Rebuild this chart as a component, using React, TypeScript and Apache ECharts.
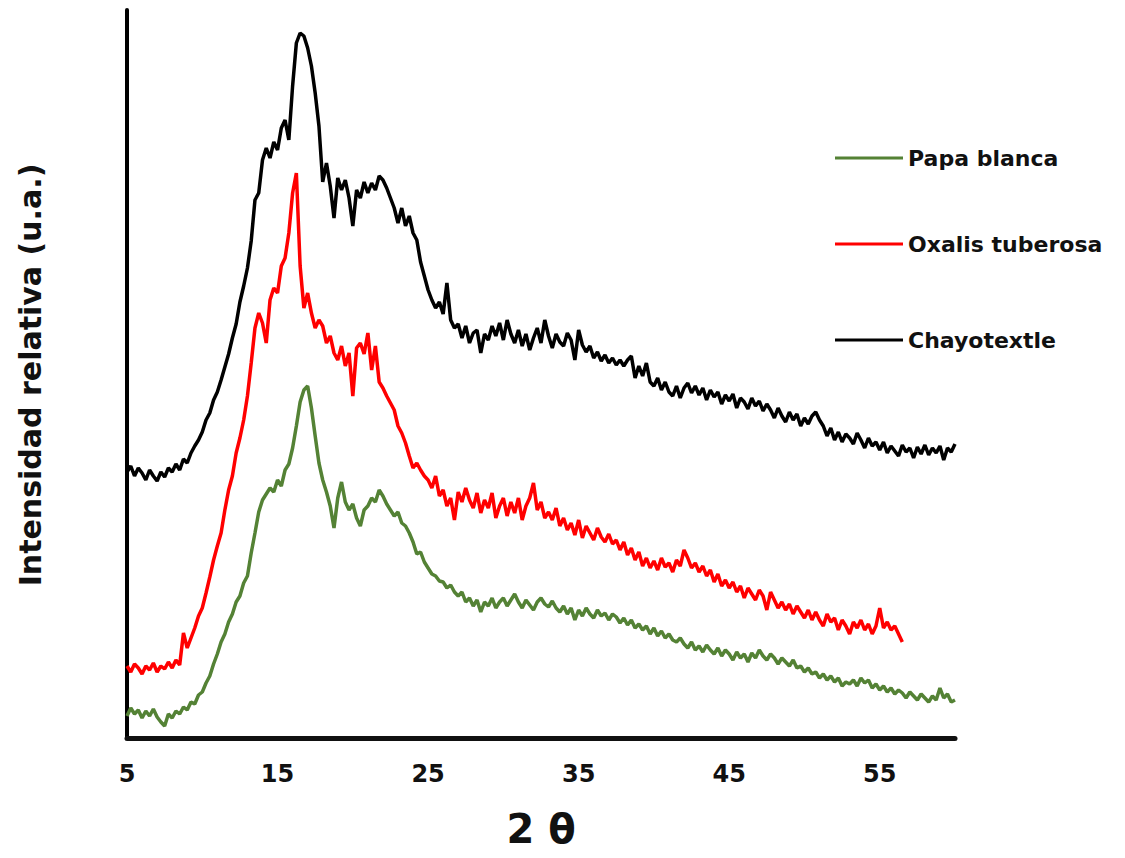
import React, { useEffect, useRef } from "react";
import * as echarts from "echarts";

// 2θ sampling of the diffractograms (degrees)
const THETA_START = 5;
const THETA_STEP = 0.25;

// Relative intensity (a.u.), one row per degree: 5.00, 5.25, 5.50, 5.75 ...
const chayotextle: number[] = [
  266, 272, 262, 270,
  265, 258, 268, 262,
  257, 266, 261, 270,
  266, 274, 268, 279,
  275, 285, 292, 298,
  306, 318, 325, 338,
  346, 358, 371, 384,
  400, 414, 436, 452,
  470, 497, 538, 545,
  578, 590, 580, 596,
  588, 610, 618, 598,
  652, 695, 705, 702,
  690, 672, 645, 612,
  556, 575, 552, 520,
  560, 548, 558, 540,
  512, 548, 540, 556,
  545, 555, 548, 562,
  558, 550, 540, 530,
  515, 530, 512, 522,
  505, 498, 476, 462,
  448, 438, 430, 436,
  424, 455, 418, 410,
  414, 400, 412, 395,
  405, 408, 385, 404,
  398, 412, 402, 415,
  398, 418, 404, 395,
  408, 392, 404, 388,
  400, 410, 395, 418,
  402, 390, 404, 396,
  392, 405, 398, 378,
  408, 393, 386, 392,
  380, 386, 377, 383,
  375, 380, 373, 378,
  372, 378, 382, 360,
  372, 362, 375, 356,
  352, 360, 348, 356,
  346, 342, 352, 340,
  350, 355, 345, 352,
  343, 350, 338, 348,
  341, 346, 334, 343,
  337, 344, 330, 340,
  336, 329, 340, 332,
  337, 327, 334, 328,
  320, 330, 322, 316,
  326, 318, 324, 312,
  320, 314, 322, 326,
  318, 312, 302, 310,
  298, 306, 296, 304,
  300, 294, 305, 298,
  290, 300, 292, 296,
  288, 296, 285, 292,
  287, 282, 293, 286,
  290, 280, 291, 284,
  293, 283, 290, 285,
  292, 278, 290, 286,
  294,
];

const oxalisTuberosa: number[] = [
  72, 66, 74, 70,
  64, 72, 68, 75,
  66, 72, 69, 76,
  70, 78, 73, 105,
  90, 100, 110, 122,
  130, 145, 161, 178,
  192, 205, 228, 248,
  262, 285, 300, 318,
  342, 375, 410, 425,
  415, 395, 438, 450,
  445, 472, 480, 505,
  545, 565, 472, 430,
  445, 425, 410, 418,
  412, 395, 402, 385,
  378, 392, 372, 385,
  342, 390, 395, 384,
  405, 368, 392, 356,
  350, 342, 335, 328,
  312, 305, 295, 282,
  270, 275, 268, 262,
  258, 250, 262, 242,
  248, 232, 240, 218,
  246, 236, 250, 238,
  230, 245, 225, 238,
  230, 245, 220, 232,
  240, 222, 236, 225,
  240, 218, 232, 240,
  255, 228, 236, 220,
  226, 218, 230, 212,
  220, 208, 215, 203,
  218, 200, 212, 205,
  198, 210, 201, 196,
  204, 194, 198, 188,
  196, 183, 190, 178,
  186, 172, 180, 170,
  177, 168, 180, 171,
  175, 166, 178, 172,
  188, 180, 170, 175,
  166, 172, 162, 168,
  156, 164, 152, 158,
  150, 156, 146, 152,
  140, 150, 144, 138,
  148, 142, 128, 146,
  138, 130, 136, 128,
  134, 124, 132, 126,
  120, 128, 118, 126,
  118, 112, 124, 116,
  120, 108, 118, 112,
  104, 116, 110, 118,
  108, 114, 104, 112,
  130, 110, 116, 108,
  112, 104, 96,
];

const papaBlanca: number[] = [
  22, 30, 24, 28,
  20, 27, 22, 29,
  21, 16, 12, 24,
  20, 27, 24, 31,
  28, 36, 34, 43,
  46, 55, 62, 74,
  84, 96, 104, 116,
  124, 136, 142, 155,
  162, 185, 205, 226,
  238, 244, 250, 246,
  258, 252, 268, 274,
  290, 312, 336, 348,
  352, 330, 302, 275,
  258, 246, 232, 210,
  240, 256, 236, 228,
  234, 220, 212, 228,
  232, 240, 236, 248,
  242, 234, 228, 222,
  226, 215, 212, 205,
  196, 184, 186, 176,
  170, 164, 162, 157,
  156, 150, 153, 146,
  142, 146, 136, 140,
  132, 138, 126, 136,
  132, 140, 130, 136,
  140, 132, 138, 144,
  136, 130, 138, 133,
  128, 136, 140, 134,
  131, 137, 130, 126,
  132, 124, 130, 118,
  128, 122, 130, 124,
  120, 128, 122, 125,
  118, 124, 121, 115,
  120, 113, 118, 110,
  114, 108, 112, 104,
  110, 102, 107, 100,
  104, 98, 96, 100,
  94, 90, 96, 88,
  92, 86, 93, 88,
  84, 90, 82, 88,
  84, 78, 86, 80,
  84, 76, 85, 80,
  88, 82, 78, 84,
  80, 74, 80, 76,
  72, 78, 70, 72,
  66, 70, 64, 66,
  60, 64, 58, 62,
  56, 60, 52, 56,
  54, 58, 52, 60,
  55, 58, 50, 54,
  48, 52, 46, 50,
  44, 48, 45, 40,
  46, 42, 38, 44,
  40, 36, 42, 38,
  50, 40, 44, 36,
  38,
];

const xTicks = [5, 15, 25, 35, 45, 55];
const seriesNames = ["Papa blanca", "Oxalis tuberosa", "Chayotextle"];
const seriesValues = [papaBlanca, oxalisTuberosa, chayotextle];
const seriesColors = ["#548235", "#ff0000", "#000000"];

const FONT = "'DejaVu Sans', 'Open Sans', sans-serif";

function toPoints(values: number[]): [number, number][] {
  return values.map((v, i) => [THETA_START + THETA_STEP * i, v]);
}

export default function App() {
  const ref = useRef<HTMLDivElement>(null);

  useEffect(() => {
    if (!ref.current) return;
    const chart = echarts.init(ref.current, undefined, { renderer: "svg" });
    const legendTops = [144, 230, 326];
    chart.setOption({
      animation: false,
      backgroundColor: "#ffffff",
      grid: { left: 127, right: 170, top: 10, bottom: 120, containLabel: false },
      xAxis: {
        type: "value",
        min: 5,
        max: 60,
        interval: 10,
        axisLine: { show: true, lineStyle: { color: "#111111", width: 5 } },
        axisTick: { show: false },
        splitLine: { show: false },
        axisLabel: {
          showMaxLabel: false,
          margin: 24,
          color: "#111111",
          fontSize: 24,
          fontWeight: "bold",
          fontFamily: FONT,
          formatter: (v: number) => (xTicks.includes(v) ? String(v) : ""),
        },
      },
      yAxis: {
        type: "value",
        min: 0,
        max: 728,
        axisLine: { show: true, lineStyle: { color: "#000000", width: 4 } },
        axisTick: { show: false },
        axisLabel: { show: false },
        splitLine: { show: false },
      },
      legend: seriesNames.map((name, i) => ({
        data: [{ name, icon: "rect" }],
        left: 835,
        top: legendTops[i],
        padding: 0,
        itemWidth: 68,
        itemHeight: 3,
        selectedMode: false,
        textStyle: {
          color: "#111111",
          fontSize: 22,
          fontWeight: "bold",
          fontFamily: FONT,
          lineHeight: 28,
        },
      })),
      graphic: [
        {
          type: "text",
          x: 30,
          y: 375,
          rotation: Math.PI / 2,
          style: {
            text: "Intensidad relativa (u.a.)",
            fontSize: 30,
            fontWeight: "bold",
            fontFamily: FONT,
            fill: "#111111",
            textAlign: "center",
            textVerticalAlign: "middle",
          },
        },
        {
          type: "text",
          x: 541,
          y: 829,
          style: {
            text: "2 θ",
            fontSize: 40,
            fontWeight: "bold",
            fontFamily: FONT,
            fill: "#111111",
            textAlign: "center",
            textVerticalAlign: "middle",
          },
        },
      ],
      series: seriesNames.map((name, i) => ({
        name,
        type: "line",
        data: toPoints(seriesValues[i]),
        showSymbol: false,
        symbol: "none",
        lineStyle: { color: seriesColors[i], width: 3.5 },
        itemStyle: { color: seriesColors[i] },
        clip: true,
      })),
    });
    return () => chart.dispose();
  }, []);

  return <div ref={ref} style={{ width: 1125, height: 858, margin: -8 }} />;
}
